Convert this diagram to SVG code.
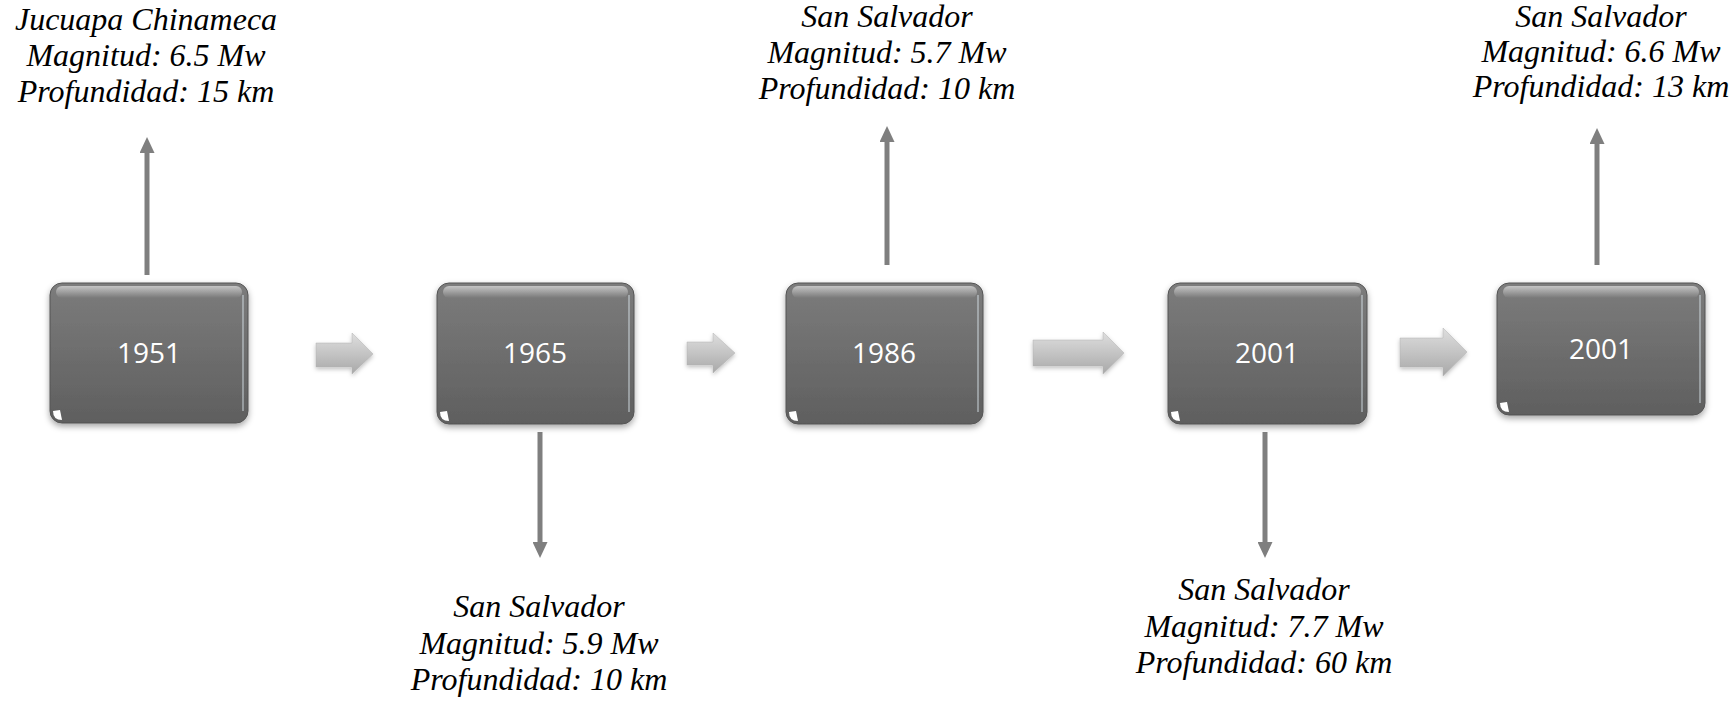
<svg xmlns="http://www.w3.org/2000/svg" width="1734" height="703" viewBox="0 0 1734 703">
<style>
.lbl{font-family:"Liberation Serif","Times New Roman",serif;font-style:italic;font-size:32px;fill:#000;text-anchor:middle}
.yr{font-family:"Open Sans","Liberation Sans",sans-serif;font-size:28px;fill:#fff;text-anchor:middle}
.box{fill:url(#boxg);stroke:#555;stroke-width:1;filter:url(#sh)}
.hl{fill:url(#hlg)}
.edge{stroke:#d8e4ea;stroke-width:1.5;fill:none;opacity:0.6}
.conn{stroke:#7f7f7f;stroke-width:5;fill:none;marker-end:url(#ah)}
.blk{fill:url(#blkg);stroke:#b0b0b0;stroke-width:0.5;filter:url(#sh2)}
</style>
<defs>
<linearGradient id="boxg" x1="0" y1="0" x2="0" y2="1">
<stop offset="0" stop-color="#7c7c7c"/>
<stop offset="1" stop-color="#5f5f5f"/>
</linearGradient>
<linearGradient id="hlg" x1="0" y1="0" x2="0" y2="1">
<stop offset="0" stop-color="#ffffff" stop-opacity="0.55"/>
<stop offset="1" stop-color="#ffffff" stop-opacity="0"/>
</linearGradient>
<linearGradient id="blkg" x1="0" y1="0" x2="0" y2="1">
<stop offset="0" stop-color="#dedede"/>
<stop offset="0.5" stop-color="#c4c4c4"/>
<stop offset="1" stop-color="#a8a8a8"/>
</linearGradient>
<filter id="sh" x="-10%" y="-10%" width="120%" height="125%">
<feDropShadow dx="0" dy="3" stdDeviation="3" flood-color="#000" flood-opacity="0.35"/>
</filter>
<filter id="sh2" x="-30%" y="-30%" width="160%" height="160%">
<feDropShadow dx="0" dy="2" stdDeviation="2" flood-color="#000" flood-opacity="0.25"/>
</filter>
<marker id="ah" markerUnits="userSpaceOnUse" markerWidth="16" markerHeight="15" refX="4" refY="7.5" orient="auto">
<path d="M0,0 L16,7.5 L0,15 z" fill="#7f7f7f"/>
</marker>
</defs>
<rect width="1734" height="703" fill="#fff"/>

<g id="connectors">
<path class="conn" d="M147,275 V149"/>
<path class="conn" d="M540,432 V546"/>
<path class="conn" d="M887,265 V138"/>
<path class="conn" d="M1265,432 V546"/>
<path class="conn" d="M1597,265 V140"/>
<path class="blk" d="M316,343 H352 V333 L373,354 L352,374 V367 H316 Z"/>
<path class="blk" d="M687,342 H713 V333 L735,353 L713,373 V365 H687 Z"/>
<path class="blk" d="M1033,340 H1103 V332 L1124,353 L1103,374 V366 H1033 Z"/>
<path class="blk" d="M1400,338 H1443 V328 L1467,352 L1443,376 V367 H1400 Z"/>
</g>

<g id="node-1951">
<rect class="box" x="50" y="283" width="198" height="140" rx="12"/>
<rect class="hl" x="56" y="286" width="186" height="12" rx="6"/>
<path class="edge" d="M243,295 V411"/>
<path d="M53,411 Q53,420 62,420 L60,410 Z" fill="#fff"/>
<text class="yr" x="149" y="363">1951</text>
</g>

<g id="node-1965">
<rect class="box" x="437" y="283" width="197" height="141" rx="12"/>
<rect class="hl" x="443" y="286" width="185" height="12" rx="6"/>
<path class="edge" d="M629,295 V412"/>
<path d="M440,412 Q440,421 449,421 L447,411 Z" fill="#fff"/>
<text class="yr" x="535" y="363">1965</text>
</g>

<g id="node-1986">
<rect class="box" x="786" y="283" width="197" height="141" rx="12"/>
<rect class="hl" x="792" y="286" width="185" height="12" rx="6"/>
<path class="edge" d="M978,295 V412"/>
<path d="M789,412 Q789,421 798,421 L796,411 Z" fill="#fff"/>
<text class="yr" x="884" y="363">1986</text>
</g>

<g id="node-2001a">
<rect class="box" x="1168" y="283" width="199" height="141" rx="12"/>
<rect class="hl" x="1174" y="286" width="187" height="12" rx="6"/>
<path class="edge" d="M1362,295 V412"/>
<path d="M1171,412 Q1171,421 1180,421 L1178,411 Z" fill="#fff"/>
<text class="yr" x="1267" y="363">2001</text>
</g>

<g id="node-2001b">
<rect class="box" x="1497" y="283" width="208" height="132" rx="12"/>
<rect class="hl" x="1503" y="286" width="196" height="12" rx="6"/>
<path class="edge" d="M1700,295 V403"/>
<path d="M1500,403 Q1500,412 1509,412 L1507,402 Z" fill="#fff"/>
<text class="yr" x="1601" y="359">2001</text>
</g>

<g id="label-1951">
<text class="lbl" x="146" y="30">Jucuapa Chinameca</text>
<text class="lbl" x="146" y="66">Magnitud: 6.5 Mw</text>
<text class="lbl" x="146" y="102">Profundidad: 15 km</text>
</g>
<g id="label-1965">
<text class="lbl" x="539" y="617">San Salvador</text>
<text class="lbl" x="539" y="654">Magnitud: 5.9 Mw</text>
<text class="lbl" x="539" y="690">Profundidad: 10 km</text>
</g>
<g id="label-1986">
<text class="lbl" x="887" y="27">San Salvador</text>
<text class="lbl" x="887" y="63">Magnitud: 5.7 Mw</text>
<text class="lbl" x="887" y="99">Profundidad: 10 km</text>
</g>
<g id="label-2001a">
<text class="lbl" x="1264" y="600">San Salvador</text>
<text class="lbl" x="1264" y="637">Magnitud: 7.7 Mw</text>
<text class="lbl" x="1264" y="673">Profundidad: 60 km</text>
</g>
<g id="label-2001b">
<text class="lbl" x="1601" y="27">San Salvador</text>
<text class="lbl" x="1601" y="62">Magnitud: 6.6 Mw</text>
<text class="lbl" x="1601" y="97">Profundidad: 13 km</text>
</g>
</svg>
